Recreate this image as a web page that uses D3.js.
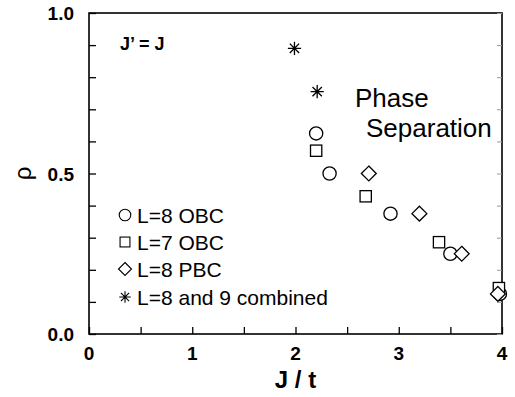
<!DOCTYPE html>
<html>
<head>
<meta charset="utf-8">
<script src="https://cdn.jsdelivr.net/npm/d3@7"></script>
<style>
  body { margin: 0; background: #fff; }
  svg { display: block; font-family: "Liberation Sans", Arial, sans-serif; }
</style>
</head>
<body>
<div id="chart"></div>
<script>
// data
const seriesNames = ['L=8 OBC', 'L=7 OBC', 'L=8 PBC', 'L=8 and 9 combined'];
const obc8X = [2.2, 2.33, 2.92, 3.5, 3.98];
const obc8Y = [0.625, 0.5, 0.375, 0.25, 0.125];
const obc7X = [2.2, 2.68, 3.39, 3.97];
const obc7Y = [0.571, 0.429, 0.286, 0.143];
const pbc8X = [2.71, 3.2, 3.61, 3.96];
const pbc8Y = [0.5, 0.375, 0.25, 0.125];
const combX = [1.99, 2.21];
const combY = [0.89, 0.755];
const xTicks = [0, 1, 2, 3, 4];
const yTicks = [0.0, 0.5, 1.0];

const width = 515;
const height = 397;
const margin = { top: 13, right: 13, bottom: 63, left: 89 };

const svg = d3.select('#chart')
  .append('svg')
  .attr('width', width)
  .attr('height', height);

const x = d3.scaleLinear().domain([0, 4]).range([margin.left, width - margin.right]);
const y = d3.scaleLinear().domain([0, 1]).range([height - margin.bottom, margin.top]);

// frame
svg.append('rect')
  .attr('x', x(0)).attr('y', y(1))
  .attr('width', x(4) - x(0)).attr('height', y(0) - y(1))
  .attr('fill', 'none').attr('stroke', '#000').attr('stroke-width', 1.6);

// inward ticks
const xMinor = d3.range(0, 4.01, 0.5);
const yMinor = d3.range(0, 1.001, 0.1);

svg.append('g')
  .attr('transform', `translate(0, ${y(0)})`)
  .call(d3.axisTop(x).tickValues(xMinor).tickSize(7).tickFormat(''))
  .call(g => g.select('.domain').remove())
  .call(g => g.selectAll('line').attr('stroke-width', 1.3));

svg.append('g')
  .attr('transform', `translate(${x(0)}, 0)`)
  .call(d3.axisRight(y).tickValues(yMinor).tickSize(7).tickFormat(''))
  .call(g => g.select('.domain').remove())
  .call(g => g.selectAll('line').attr('stroke-width', 1.3));

svg.append('g')
  .attr('transform', `translate(${x(4)}, 0)`)
  .call(d3.axisLeft(y).tickValues(yMinor).tickSize(5).tickFormat(''))
  .call(g => g.select('.domain').remove())
  .call(g => g.selectAll('line').attr('stroke', '#999').attr('stroke-width', 1));

// tick labels
svg.append('g')
  .selectAll('text')
  .data(xTicks)
  .enter()
  .append('text')
  .attr('x', d => x(d))
  .attr('y', y(0) + 26)
  .attr('text-anchor', 'middle')
  .attr('font-size', 19)
  .attr('font-weight', 'bold')
  .text(d => d);

svg.append('g')
  .selectAll('text')
  .data(yTicks)
  .enter()
  .append('text')
  .attr('x', x(0) - 15)
  .attr('y', d => y(d) + 7)
  .attr('text-anchor', 'end')
  .attr('font-size', 19)
  .attr('font-weight', 'bold')
  .text(d => d.toFixed(1));

// axis titles
svg.append('text')
  .attr('x', (x(0) + x(4)) / 2)
  .attr('y', y(0) + 54)
  .attr('text-anchor', 'middle')
  .attr('font-size', 24)
  .attr('font-weight', 'bold')
  .text('J / t');

svg.append('text')
  .attr('transform', `translate(31, ${y(0.5)}) rotate(-90)`)
  .attr('text-anchor', 'middle')
  .attr('font-size', 24)
  .text('ρ');

// annotations
svg.append('text')
  .attr('x', 120).attr('y', 50)
  .attr('font-size', 18)
  .attr('font-weight', 'bold')
  .text('J\u2019 = J');

svg.append('text')
  .attr('x', 355).attr('y', 107)
  .attr('font-size', 26)
  .text('Phase');

svg.append('text')
  .attr('x', 366).attr('y', 137)
  .attr('font-size', 26)
  .text('Separation');

// marker shapes
function drawMarker(g, kind, s) {
  if (kind === 'circle') {
    g.append('circle').attr('r', s * 0.55);
  } else if (kind === 'square') {
    g.append('rect').attr('x', -s * 0.47).attr('y', -s * 0.47).attr('width', s * 0.94).attr('height', s * 0.94);
  } else if (kind === 'diamond') {
    const h = s * 0.62;
    g.append('path').attr('d', `M0,${-h}L${h},0L0,${h}L${-h},0Z`);
  } else {
    const r = s * 0.55;
    let d = '';
    for (let k = 0; k < 4; k++) {
      const a = k * Math.PI / 4;
      d += `M${-r * Math.cos(a)},${-r * Math.sin(a)}L${r * Math.cos(a)},${r * Math.sin(a)}`;
    }
    g.append('path').attr('d', d);
  }
}

const series = [
  { kind: 'circle', xs: obc8X, ys: obc8Y },
  { kind: 'square', xs: obc7X, ys: obc7Y },
  { kind: 'diamond', xs: pbc8X, ys: pbc8Y },
  { kind: 'star', xs: combX, ys: combY }
];

series.forEach(s => {
  s.xs.forEach((xv, i) => {
    const g = svg.append('g')
      .attr('transform', `translate(${x(xv)}, ${y(s.ys[i])})`)
      .attr('fill', s.kind === 'star' ? 'none' : '#fff')
      .attr('stroke', '#000')
      .attr('stroke-width', 1.3);
    drawMarker(g, s.kind, 12);
  });
});

// legend
const legendY = [215, 242, 269, 297];
series.forEach((s, i) => {
  const g = svg.append('g')
    .attr('transform', `translate(125, ${legendY[i]})`)
    .attr('fill', s.kind === 'star' ? 'none' : '#fff')
    .attr('stroke', '#000')
    .attr('stroke-width', 1.1);
  drawMarker(g, s.kind, 10.5);
  svg.append('text')
    .attr('x', 137)
    .attr('y', legendY[i] + 7.5)
    .attr('font-size', 21)
    .text(seriesNames[i]);
});
</script>
</body>
</html>
